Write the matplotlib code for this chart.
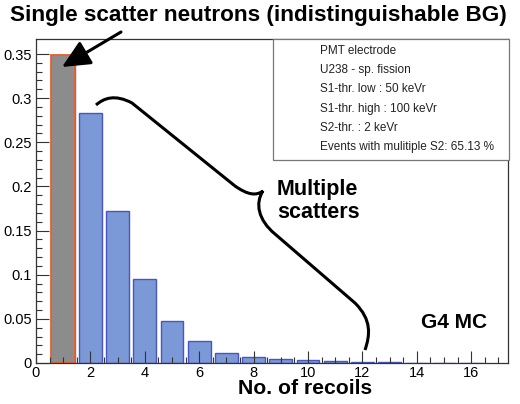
import numpy as np
import matplotlib
matplotlib.use("Agg")
import matplotlib.pyplot as plt
from matplotlib.path import Path
from matplotlib.patches import PathPatch, Rectangle
from matplotlib.transforms import Affine2D

plt.rcParams['font.family'] = ['Liberation Sans', 'DejaVu Sans']

# Data
n_recoils = np.arange(1, 17)
fraction = [0.349, 0.283, 0.172, 0.0955, 0.048, 0.0245, 0.0117, 0.0072,
            0.0049, 0.0034, 0.0023, 0.0015, 0.0008, 0.0005, 0.0003, 0.0002]
single = [0.349]
stats_lines = ["PMT electrode", "U238 - sp. fission", "S1-thr. low : 50 keVr",
               "S1-thr. high : 100 keVr", "S2-thr. : 2 keVr",
               "Events with mulitiple S2: 65.13 %"]

W, H = 520, 404
fig = plt.figure(figsize=(W / 100, H / 100), dpi=100)
ax = fig.add_axes([36 / W, 1 - 363 / H, 472 / W, 324 / H])

# pixel coords of the image (y down) -> figure
pix = Affine2D().scale(1 / W, -1 / H).translate(0, 1) + fig.transFigure

ax.bar(n_recoils, fraction, width=0.84, color='#7b99d6', edgecolor='#4a55c4', linewidth=1.0)
ax.bar([1], single, width=0.88, color='#8c8c8c', edgecolor='#e8602a', linewidth=1.3)

ax.set_xlim(0, 17.35)
ax.set_ylim(0, 0.367)
ax.set_xticks(np.arange(0, 17, 2))
ax.set_xticks(np.arange(0, 17.5, 0.5), minor=True)
ax.set_yticks(np.arange(0, 0.36, 0.05))
ax.set_yticklabels(['0', '0.05', '0.1', '0.15', '0.2', '0.25', '0.3', '0.35'])
ax.set_yticks(np.arange(0, 0.36, 0.01), minor=True)
ax.tick_params(which='both', direction='in', labelsize=10.5, width=0.8, color='#333333')
ax.tick_params(which='major', length=9)
ax.tick_params(which='minor', length=4)
ax.tick_params(axis='y', pad=3)
ax.tick_params(axis='x', pad=2)
for s in ax.spines.values():
    s.set_linewidth(0.9)
    s.set_color('#333333')

# stats box
fig.add_artist(Rectangle((273, 160), 236, -121, transform=pix, fill=True, facecolor='white',
                         edgecolor='#777777', lw=0.9))
for i, t in enumerate(stats_lines):
    fig.text(320 / W, 1 - (51 + i * 19.2) / H, t, fontsize=8.5, va='center', ha='left', color='#222222')

fig.text(10 / W, 1 - 16 / H, "Single scatter neutrons (indistinguishable BG)",
         fontsize=16.2, fontweight='bold', va='center', ha='left')
fig.text(305 / W, 1 - 389 / H, "No. of recoils", fontsize=15.2, fontweight='bold',
         va='center', ha='center')
fig.text(277 / W, 1 - 201 / H, "Multiple\nscatters", fontsize=15.5, fontweight='bold',
         va='center', ha='left', linespacing=1.15)
fig.text(421 / W, 1 - 322 / H, "G4 MC", fontsize=15, fontweight='bold', va='center', ha='left')

# arrow to the single-scatter bar
ax.annotate('', xy=(62, H - 67), xytext=(121, H - 32), xycoords='figure pixels',
            textcoords='figure pixels',
            arrowprops=dict(arrowstyle='-|>,head_length=1.7,head_width=0.8', lw=2.2,
                            color='black', shrinkA=0, shrinkB=0))

# curly brace
verts = [(96, 105), (104, 98), (115, 94), (132, 103),
         (235, 186),
         (248, 195), (256, 196), (263, 191),
         (255, 203), (258, 220), (275, 234),
         (355, 303),
         (372, 320), (370, 335), (365, 350)]
codes = [Path.MOVETO, Path.CURVE4, Path.CURVE4, Path.CURVE4,
         Path.LINETO,
         Path.CURVE4, Path.CURVE4, Path.CURVE4,
         Path.CURVE4, Path.CURVE4, Path.CURVE4,
         Path.LINETO,
         Path.CURVE4, Path.CURVE4, Path.CURVE4]
fig.add_artist(PathPatch(Path(verts, codes), transform=pix, fill=False, lw=2.2, color='black'))

fig.savefig('out.png', dpi=100)
